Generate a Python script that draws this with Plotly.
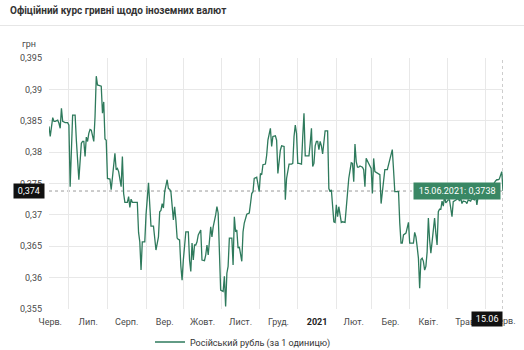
import pandas as pd
import plotly.graph_objects as go

# Official UAH rate for 1 Russian rouble, 15.06.2020 - 15.06.2021
start_date = pd.Timestamp("2020-06-15")
day_offsets = [
    0, 1, 3, 4, 5, 7, 8, 9, 10, 11, 13, 15, 16, 17, 19, 21, 22, 24, 26, 27,
    28, 29, 30, 31, 32, 33, 34, 36, 37, 38, 39, 42, 43, 44, 45, 46, 47, 49, 50, 51,
    53, 54, 55, 56, 58, 59, 60, 61, 63, 64, 65, 66, 67, 69, 71, 72, 73, 74, 75, 77,
    78, 80, 81, 82, 84, 86, 88, 89, 90, 91, 92, 93, 95, 96, 97, 98, 100, 101, 102, 103,
    104, 105, 106, 107, 108, 110, 112, 113, 114, 115, 116, 117, 118, 119, 120, 121, 122, 123, 125, 126,
    127, 128, 130, 131, 132, 134, 135, 136, 137, 138, 140, 141, 142, 143, 144, 145, 147, 148, 149, 150,
    151, 152, 153, 154, 155, 156, 157, 159, 161, 162, 163, 164, 165, 167, 168, 169, 170, 171, 172, 174,
    175, 176, 178, 179, 180, 181, 182, 183, 184, 186, 187, 189, 190, 191, 193, 195, 196, 197, 198, 199,
    200, 201, 203, 204, 205, 206, 207, 209, 210, 211, 212, 213, 214, 215, 216, 217, 218, 219, 220, 221,
    222, 223, 224, 225, 226, 227, 228, 229, 230, 231, 232, 233, 235, 236, 238, 239, 240, 241, 243, 244,
    245, 246, 247, 248, 249, 250, 252, 253, 254, 255, 257, 258, 259, 260, 261, 262, 264, 265, 266, 267,
    269, 270, 272, 273, 274, 276, 277, 278, 279, 281, 282, 283, 284, 285, 287, 288, 289, 290, 292, 293,
    294, 295, 296, 297, 298, 299, 300, 301, 302, 303, 304, 305, 306, 307, 308, 310, 311, 312, 313, 314,
    315, 316, 317, 318, 319, 321, 322, 323, 324, 325, 327, 329, 330, 331, 332, 333, 335, 336, 337, 339,
    340, 342, 343, 344, 345, 348, 351, 354, 357, 359, 360, 361, 362, 364, 365,
]
rub_rate = [
    0.3841, 0.3825, 0.3855, 0.3849, 0.3849, 0.3851, 0.3846, 0.3838, 0.3870, 0.3849,
    0.3847, 0.3847, 0.3843, 0.3745, 0.3859, 0.3859, 0.3819, 0.3756, 0.3814, 0.3817,
    0.3817, 0.3793, 0.3824, 0.3817, 0.3830, 0.3836, 0.3835, 0.3817, 0.3856, 0.3921,
    0.3907, 0.3905, 0.3862, 0.3880, 0.3821, 0.3819, 0.3758, 0.3757, 0.3740, 0.3761,
    0.3798, 0.3772, 0.3774, 0.3769, 0.3745, 0.3793, 0.3734, 0.3720, 0.3720, 0.3729,
    0.3712, 0.3725, 0.3720, 0.3720, 0.3720, 0.3672, 0.3657, 0.3612, 0.3657, 0.3657,
    0.3700, 0.3751, 0.3724, 0.3682, 0.3682, 0.3644, 0.3665, 0.3705, 0.3707, 0.3718,
    0.3711, 0.3737, 0.3756, 0.3742, 0.3741, 0.3737, 0.3692, 0.3713, 0.3692, 0.3663,
    0.3661, 0.3660, 0.3618, 0.3596, 0.3628, 0.3673, 0.3673, 0.3628, 0.3610, 0.3655,
    0.3628, 0.3652, 0.3652, 0.3657, 0.3668, 0.3671, 0.3676, 0.3628, 0.3627, 0.3636,
    0.3652, 0.3636, 0.3681, 0.3665, 0.3681, 0.3700, 0.3713, 0.3703, 0.3649, 0.3580,
    0.3578, 0.3602, 0.3554, 0.3607, 0.3618, 0.3663, 0.3663, 0.3620, 0.3697, 0.3673,
    0.3676, 0.3647, 0.3649, 0.3639, 0.3626, 0.3673, 0.3687, 0.3701, 0.3703, 0.3718,
    0.3734, 0.3737, 0.3758, 0.3760, 0.3750, 0.3737, 0.3766, 0.3764, 0.3780, 0.3781,
    0.3795, 0.3819, 0.3838, 0.3809, 0.3825, 0.3825, 0.3826, 0.3819, 0.3766, 0.3803,
    0.3810, 0.3809, 0.3724, 0.3758, 0.3781, 0.3781, 0.3782, 0.3825, 0.3843, 0.3830,
    0.3782, 0.3782, 0.3781, 0.3825, 0.3862, 0.3794, 0.3794, 0.3794, 0.3814, 0.3838,
    0.3777, 0.3782, 0.3810, 0.3817, 0.3817, 0.3804, 0.3817, 0.3810, 0.3797, 0.3817,
    0.3834, 0.3834, 0.3834, 0.3742, 0.3737, 0.3740, 0.3716, 0.3689, 0.3688, 0.3716,
    0.3697, 0.3713, 0.3688, 0.3689, 0.3688, 0.3716, 0.3729, 0.3758, 0.3783, 0.3782,
    0.3753, 0.3813, 0.3785, 0.3776, 0.3776, 0.3778, 0.3776, 0.3772, 0.3745, 0.3790,
    0.3782, 0.3778, 0.3774, 0.3734, 0.3790, 0.3769, 0.3766, 0.3765, 0.3764, 0.3718,
    0.3748, 0.3772, 0.3772, 0.3780, 0.3789, 0.3804, 0.3772, 0.3737, 0.3737, 0.3737,
    0.3687, 0.3655, 0.3655, 0.3668, 0.3671, 0.3681, 0.3688, 0.3655, 0.3655, 0.3655,
    0.3672, 0.3665, 0.3649, 0.3631, 0.3583, 0.3629, 0.3631, 0.3626, 0.3612, 0.3618,
    0.3641, 0.3695, 0.3660, 0.3639, 0.3657, 0.3695, 0.3671, 0.3652, 0.3705, 0.3709,
    0.3709, 0.3722, 0.3714, 0.3730, 0.3719, 0.3724, 0.3724, 0.3708, 0.3697, 0.3721,
    0.3724, 0.3726, 0.3722, 0.3727, 0.3718, 0.3722, 0.3721, 0.3718, 0.3724, 0.3722,
    0.3726, 0.3724, 0.3730, 0.3716, 0.3729, 0.3735, 0.3740, 0.3745, 0.3748, 0.3754,
    0.3756, 0.3756, 0.3757, 0.3769, 0.3738,
]
month_labels = ["Черв.", "Лип.", "Серп.", "Вер.", "Жовт.", "Лист.", "Груд.",
                "<b style='color:#222'>2021</b>", "Лют.", "Бер.", "Квіт.", "Трав.", "Черв."]
y_ticks = [0.355, 0.36, 0.365, 0.37, 0.375, 0.38, 0.385, 0.39, 0.395]

series_name = "Російський рубль (за 1 одиницю)"
title_text = "Офіційний курс гривні щодо іноземних валют"

LINE = "#2e7a5c"
TIP = "#398764"
GRID = "#e8e8e8"
TICK_FONT = dict(family="Roboto", size=9, color="#4a4a4a")

dates = start_date + pd.to_timedelta(day_offsets, unit="D")
first_date, last_date, last_rate = dates[0], dates[-1], rub_rate[-1]

# month boundaries (grid) and month midpoints (labels)
month_starts = pd.date_range("2020-06-01", "2021-07-01", freq="MS")
month_mids = month_starts[:-1] + (month_starts[1:] - month_starts[:-1]) / 2
in_range = [i for i, m in enumerate(month_mids) if first_date <= m <= last_date]
out_range = [i for i, m in enumerate(month_mids) if m > last_date]

def fmt(v, digits=None):
    s = f"{v:.{digits}f}" if digits is not None else f"{v:g}"
    return s.replace(".", ",")

def paper_x(d):
    # position of a date on the x axis as a fraction of the plot width
    return (d - first_date) / (last_date - first_date)

fig = go.Figure()
fig.add_trace(go.Scatter(
    x=dates, y=rub_rate, mode="lines", name=series_name,
    line=dict(color=LINE, width=1.3), showlegend=True,
))

W, H = 524, 350
L, R, T, B = 49, 21, 58, 41
pw, ph = W - L - R, H - T - B

fig.update_layout(
    width=W, height=H,
    margin=dict(l=L, r=R, t=T, b=B, pad=0, autoexpand=False),
    paper_bgcolor="white", plot_bgcolor="white",
    font=dict(family="Roboto", size=9, color="#333"),
    title=dict(text=title_text, x=10 / W, xanchor="left", xref="container",
               y=1 - 10 / H, yanchor="middle", yref="container",
               font=dict(family="Roboto", size=10, color="#333", weight="bold")),
    showlegend=True,
    legend=dict(orientation="h", xref="container", yref="container",
                x=150 / W, xanchor="left", y=1 - 342 / H, yanchor="middle",
                font=dict(family="Roboto", size=9, color="#333"),
                bgcolor="rgba(0,0,0,0)"),
    xaxis=dict(
        type="date", range=[first_date, last_date], automargin=False,
        tickvals=[month_mids[i] for i in in_range],
        ticktext=[month_labels[i] for i in in_range],
        showgrid=False, zeroline=False, showline=False, ticks="",
        ticklabelstandoff=6, tickfont=TICK_FONT,
        minor=dict(tick0="2020-06-01", dtick="M1", showgrid=True,
                   gridcolor=GRID, gridwidth=1, ticks=""),
    ),
    yaxis=dict(
        range=[y_ticks[0], y_ticks[-1]], automargin=False,
        tickvals=y_ticks, ticktext=[fmt(v) for v in y_ticks],
        showgrid=True, gridcolor=GRID, gridwidth=1,
        zeroline=False, showline=False, ticks="",
        ticklabelstandoff=6, tickfont=TICK_FONT,
    ),
)

# header rule under the title
fig.add_shape(type="line", xref="paper", yref="paper",
              x0=-L / pw, x1=(W - L) / pw,
              y0=1 + (T - 25.5) / ph, y1=1 + (T - 25.5) / ph,
              line=dict(color="#e6e6e6", width=1), layer="above")

# crosshair at the latest value
fig.add_shape(type="line", xref="x", yref="y", x0=first_date, x1=last_date,
              y0=last_rate, y1=last_rate,
              line=dict(color="#9a9a9a", width=1, dash="dot"), layer="below")
fig.add_shape(type="line", xref="x", yref="paper", x0=last_date, x1=last_date,
              y0=0, y1=1, line=dict(color="#9a9a9a", width=1, dash="dot"), layer="below")

# unit label
fig.add_annotation(text="грн", xref="paper", yref="paper",
                   x=(29 - L) / pw, y=1 + (T - 44) / ph,
                   xanchor="center", yanchor="middle", showarrow=False,
                   font=dict(family="Roboto", size=9, color="#4a4a4a"))

# month labels beyond the last date
for i in out_range:
    fig.add_annotation(text=month_labels[i], x=paper_x(month_mids[i]), xref="paper",
                       y=0, yref="paper", xanchor="center", yanchor="top", yshift=-5,
                       showarrow=False, font=TICK_FONT)

# value marker on the y axis
fig.add_annotation(text="\u2009" + fmt(round(last_rate, 3), 3) + "\u2009",
                   xref="paper", yref="y",
                   x=0, y=last_rate, xanchor="right", yanchor="middle", xshift=-4,
                   showarrow=False, bgcolor="#111", borderpad=2,
                   font=dict(family="Roboto", size=9, color="white"))

# date marker on the x axis
fig.add_annotation(text="\u2009" + last_date.strftime("%d.%m") + "\u2009",
                   xref="x", yref="paper",
                   x=last_date, y=0, xanchor="right", yanchor="top", yshift=-2,
                   showarrow=False, bgcolor="#111", borderpad=2,
                   font=dict(family="Roboto", size=9, color="white"))

# tooltip for the latest point
fig.add_annotation(text=f"\u2009{last_date.strftime('%d.%m.%Y')}: {fmt(last_rate, 4)}\u2009",
                   xref="x", yref="y", x=last_date, y=last_rate,
                   xanchor="right", yanchor="middle", xshift=-2,
                   showarrow=False, bgcolor=TIP, borderpad=3,
                   font=dict(family="Roboto", size=9, color="white"))

fig.write_html("out.html")
